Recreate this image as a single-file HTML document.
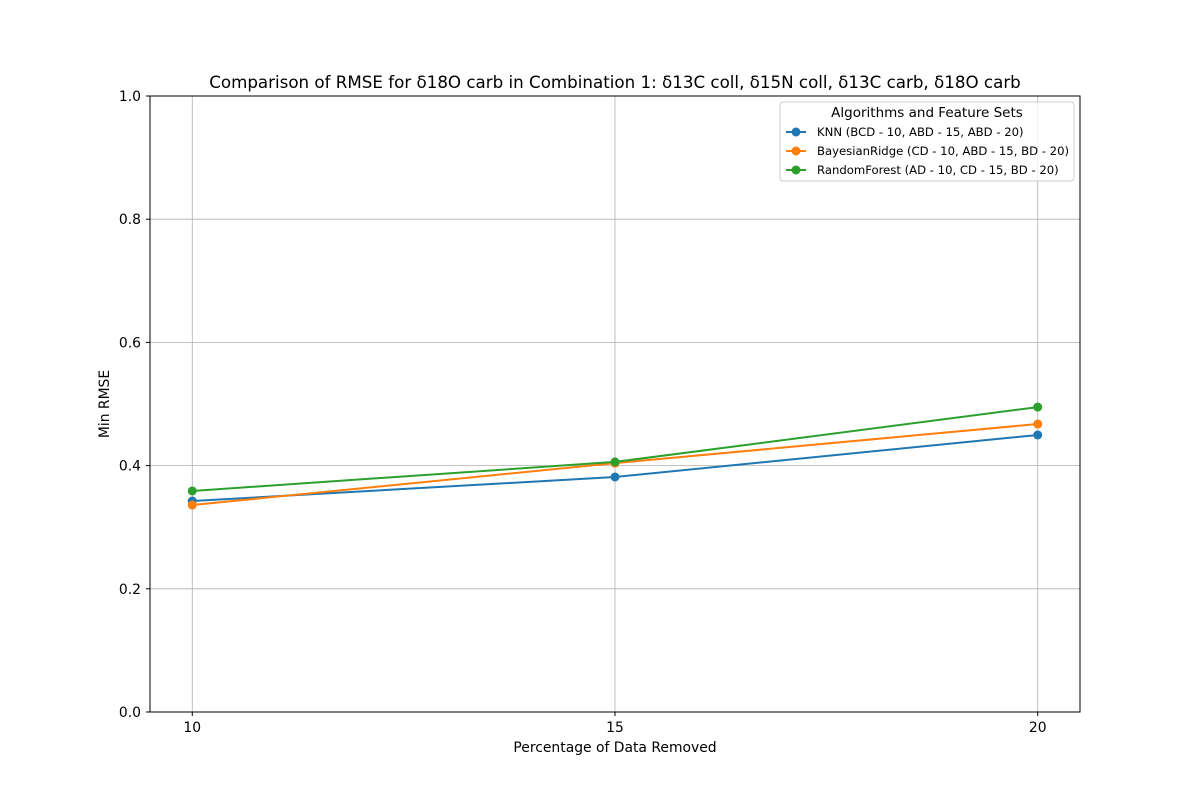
<!DOCTYPE html>
<html><head><meta charset="utf-8"><style>
body{margin:0;background:#fff}
svg text{font-family:"DejaVu Sans","Liberation Sans",sans-serif}
</style></head><body>
<svg id="chart" width="1200" height="800" xmlns="http://www.w3.org/2000/svg">
<rect width="1200" height="800" fill="#fff"/>
<g id="grid"></g>
<g id="series"></g>
<rect x="150" y="96" width="930" height="616" fill="none" stroke="#000" stroke-width="1"/>
<g id="ticks"></g>
<text x="615" y="88" font-size="16.7" text-anchor="middle">Comparison of RMSE for δ18O carb in Combination 1: δ13C coll, δ15N coll, δ13C carb, δ18O carb</text>
<text x="615" y="752" font-size="13.9" text-anchor="middle">Percentage of Data Removed</text>
<text transform="translate(109,404) rotate(-90)" font-size="13.9" text-anchor="middle">Min RMSE</text>
<g id="legend">
<rect x="780" y="102" width="294" height="79" rx="3" fill="#fff" fill-opacity="0.8" stroke="#ccc"/>
<text x="927" y="117" font-size="13.5" text-anchor="middle">Algorithms and Feature Sets</text>
</g>
</svg>
<script>
const categories=[10,15,20];
const yTicks=[0.0,0.2,0.4,0.6,0.8,1.0];
const knnValues=[0.3425,0.3815,0.4497];
const bayesValues=[0.336,0.404,0.4675];
const rfValues=[0.3588,0.406,0.495];
const seriesNames=["KNN (BCD - 10, ABD - 15, ABD - 20)","BayesianRidge (CD - 10, ABD - 15, BD - 20)","RandomForest (AD - 10, CD - 15, BD - 20)"];
const colors=["#1f77b4","#ff7f0e","#2ca02c"];
const NS="http://www.w3.org/2000/svg";
const xs=v=>150+(v-9.5)*(930/11);
const ys=v=>712-v*616;
function mk(tag,attrs,parent){const e=document.createElementNS(NS,tag);for(const k in attrs)e.setAttribute(k,attrs[k]);parent.appendChild(e);return e;}
const grid=document.getElementById('grid'),ticks=document.getElementById('ticks'),ser=document.getElementById('series'),leg=document.getElementById('legend');
categories.forEach(c=>{
 const g=mk('line',{x1:xs(c),x2:xs(c),y1:96,y2:712,stroke:'#b0b0b0','stroke-width':0.8},grid);
 
 
 mk('line',{x1:xs(c),x2:xs(c),y1:712,y2:716,stroke:'#000'},ticks);
 const t=mk('text',{x:xs(c),y:732,'font-size':13.9,'text-anchor':'middle'},ticks);t.textContent=c;
 
 
});
yTicks.forEach(v=>{
 const g=mk('line',{x1:150,x2:1080,y1:ys(v),y2:ys(v),stroke:'#b0b0b0','stroke-width':0.8},grid);
 
 
 mk('line',{x1:146,x2:150,y1:ys(v),y2:ys(v),stroke:'#000'},ticks);
 const t=mk('text',{x:141,y:ys(v)+5,'font-size':13.9,'text-anchor':'end'},ticks);t.textContent=v.toFixed(1);
 
 
});
[knnValues,bayesValues,rfValues].forEach((vals,i)=>{
 const g=mk('g',{},ser);
 
 
 mk('polyline',{points:vals.map((v,j)=>xs(categories[j])+','+ys(v)).join(' '),fill:'none',stroke:colors[i],'stroke-width':2},g);
 vals.forEach((v,j)=>{const p=mk('circle',{cx:xs(categories[j]),cy:ys(v),r:4.5,fill:colors[i]},g);
  
  });
 const y=132+i*19;
 const e=mk('g',{},leg);
 
 
 mk('line',{x1:786,x2:806,y1:y,y2:y,stroke:colors[i],'stroke-width':2},e);
 mk('circle',{cx:796,cy:y,r:4.5,fill:colors[i]},e);
 const t=mk('text',{x:817,y:y+4,'font-size':11.65},e);t.textContent=seriesNames[i];
});
</script>
</body></html>
